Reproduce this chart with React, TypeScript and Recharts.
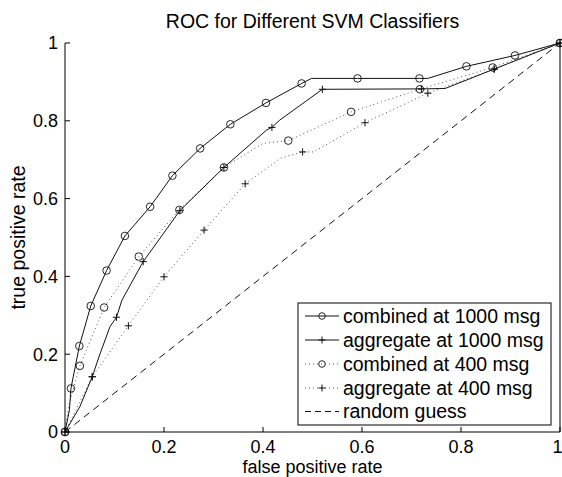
import { LineChart, Line, XAxis, YAxis, Customized } from "recharts";

// x = false positive rate, y = true positive rate, m = marker drawn at this point
const combined1000 = [
  { x: 0, y: 0, m: 1 }, { x: 0.009, y: 0.057 }, { x: 0.012, y: 0.112, m: 1 },
  { x: 0.029, y: 0.221, m: 1 }, { x: 0.052, y: 0.324, m: 1 }, { x: 0.084, y: 0.415, m: 1 },
  { x: 0.121, y: 0.504, m: 1 }, { x: 0.172, y: 0.579, m: 1 }, { x: 0.217, y: 0.659, m: 1 },
  { x: 0.273, y: 0.729, m: 1 }, { x: 0.334, y: 0.791, m: 1 }, { x: 0.406, y: 0.846, m: 1 },
  { x: 0.478, y: 0.896, m: 1 }, { x: 0.498, y: 0.909 }, { x: 0.591, y: 0.909, m: 1 },
  { x: 0.716, y: 0.909, m: 1 }, { x: 0.733, y: 0.909 }, { x: 0.811, y: 0.94, m: 1 },
  { x: 0.909, y: 0.968, m: 1 }, { x: 1, y: 1, m: 1 },
];

const aggregate1000 = [
  { x: 0, y: 0, m: 1 }, { x: 0.03, y: 0.065 }, { x: 0.055, y: 0.142, m: 1 },
  { x: 0.071, y: 0.202 }, { x: 0.091, y: 0.271 }, { x: 0.104, y: 0.295, m: 1 },
  { x: 0.115, y: 0.339 }, { x: 0.158, y: 0.438, m: 1 }, { x: 0.232, y: 0.569, m: 1 },
  { x: 0.321, y: 0.68, m: 1 }, { x: 0.407, y: 0.776 }, { x: 0.418, y: 0.783, m: 1 },
  { x: 0.434, y: 0.802 }, { x: 0.52, y: 0.881, m: 1 }, { x: 0.72, y: 0.882, m: 1 },
  { x: 0.768, y: 0.883 }, { x: 0.867, y: 0.933, m: 1 }, { x: 1, y: 1, m: 1 },
];

const combined400 = [
  { x: 0, y: 0, m: 1 }, { x: 0.008, y: 0.07 }, { x: 0.03, y: 0.17, m: 1 },
  { x: 0.079, y: 0.32, m: 1 }, { x: 0.149, y: 0.451, m: 1 }, { x: 0.231, y: 0.571, m: 1 },
  { x: 0.321, y: 0.68, m: 1 }, { x: 0.4, y: 0.742 }, { x: 0.451, y: 0.749, m: 1 },
  { x: 0.578, y: 0.823, m: 1 }, { x: 0.717, y: 0.881, m: 1 }, { x: 0.864, y: 0.937, m: 1 },
  { x: 1, y: 1, m: 1 },
];

const aggregate400 = [
  { x: 0, y: 0, m: 1 }, { x: 0.055, y: 0.142, m: 1 }, { x: 0.128, y: 0.273, m: 1 },
  { x: 0.2, y: 0.399, m: 1 }, { x: 0.281, y: 0.519, m: 1 }, { x: 0.364, y: 0.638, m: 1 },
  { x: 0.436, y: 0.704 }, { x: 0.48, y: 0.72, m: 1 }, { x: 0.502, y: 0.72 },
  { x: 0.606, y: 0.795, m: 1 }, { x: 0.733, y: 0.871, m: 1 }, { x: 0.867, y: 0.933, m: 1 },
  { x: 1, y: 1, m: 1 },
];

const randomGuess = [{ x: 0, y: 0 }, { x: 1, y: 1 }];

const ticks = [0, 0.2, 0.4, 0.6, 0.8, 1];

const legendLabels = [
  "combined at 1000 msg",
  "aggregate at 1000 msg",
  "combined at 400 msg",
  "aggregate at 400 msg",
  "random guess",
];

const FONT = "'Liberation Sans', Arial, Helvetica, sans-serif";
const SOLID = "#111";
const DOTTED = "#555";

function circleDot(p: any) {
  if (!p.payload?.m) return <g key={p.index} />;
  return <circle key={p.index} cx={p.cx} cy={p.cy} r={3.8} fill="none" stroke="#111" strokeWidth={0.9} />;
}

function plusDot(p: any) {
  if (!p.payload?.m) return <g key={p.index} />;
  const s = 3.6;
  return (
    <path key={p.index} d={`M${p.cx - s},${p.cy}H${p.cx + s}M${p.cx},${p.cy - s}V${p.cy + s}`}
      stroke="#111" strokeWidth={1} fill="none" />
  );
}

const fmt = (v: number) => String(v);

function Texts() {
  const rows = [316, 340, 364, 388, 411.5];
  const styles = [
    { stroke: SOLID, dash: undefined, mark: "o" },
    { stroke: SOLID, dash: undefined, mark: "+" },
    { stroke: DOTTED, dash: "1 3", mark: "o" },
    { stroke: DOTTED, dash: "1 3", mark: "+" },
    { stroke: SOLID, dash: "6 4", mark: "" },
  ];
  return (
    <g fontFamily={FONT} fill="#000">
      <text x={312.5} y={28} textAnchor="middle" fontSize={19.5}>ROC for Different SVM Classifiers</text>
      <text x={312.5} y={473} textAnchor="middle" fontSize={18}>false positive rate</text>
      <text transform="translate(25,237.5) rotate(-90)" textAnchor="middle" fontSize={19.5}>true positive rate</text>
      <rect x={298} y={303} width={253} height={122} fill="#fff" stroke="#000" strokeWidth={1} />
      {legendLabels.map((label, i) => {
        const y = rows[i];
        const st = styles[i];
        return (
          <g key={label}>
            <line x1={305} x2={339} y1={y} y2={y} stroke={st.stroke} strokeWidth={1} strokeDasharray={st.dash} />
            {st.mark === "o" && <circle cx={322} cy={y} r={3.3} fill="none" stroke="#111" strokeWidth={0.9} />}
            {st.mark === "+" && <path d={`M318.5,${y}H325.5M322,${y - 3.5}V${y + 3.5}`} stroke="#111" strokeWidth={1} />}
            <text x={343} y={y} dy="0.35em" fontSize={19.5}>{label}</text>
          </g>
        );
      })}
    </g>
  );
}

export default function App() {
  const tickStyle = { fontSize: 18, fontFamily: FONT, fill: "#000" };
  return (
    <div style={{ position: "absolute", left: 0, top: 0, background: "#fff" }}>
      <LineChart width={562} height={477} margin={{ top: 43, right: 0, bottom: 0, left: 0 }}>
        <XAxis type="number" dataKey="x" domain={[0, 1]} ticks={ticks} height={45}
          tickSize={-5} tickMargin={13} tick={tickStyle} tickFormatter={fmt}
          axisLine={{ stroke: "#000" }} tickLine={{ stroke: "#000" }} allowDuplicatedCategory={false} />
        <XAxis xAxisId="top" orientation="top" type="number" dataKey="x" domain={[0, 1]} ticks={ticks} height={0}
          tickSize={-5} tickFormatter={() => ""} axisLine={{ stroke: "#000" }} tickLine={{ stroke: "#000" }} />
        <YAxis type="number" domain={[0, 1]} ticks={ticks} width={65}
          tickSize={-5} tickMargin={12} tick={tickStyle} tickFormatter={fmt}
          axisLine={{ stroke: "#000" }} tickLine={{ stroke: "#000" }} />
        <YAxis yAxisId="right" orientation="right" type="number" domain={[0, 1]} ticks={ticks} width={2}
          tickSize={-5} tickFormatter={() => ""} axisLine={{ stroke: "#000" }} tickLine={{ stroke: "#000" }} />
        <Line data={randomGuess} dataKey="y" stroke={SOLID} strokeWidth={1} strokeDasharray="7 5" dot={false} isAnimationActive={false} />
        <Line data={aggregate400} dataKey="y" stroke={DOTTED} strokeWidth={1} strokeDasharray="1 3" dot={plusDot} activeDot={false} isAnimationActive={false} />
        <Line data={combined400} dataKey="y" stroke={DOTTED} strokeWidth={1} strokeDasharray="1 3" dot={circleDot} activeDot={false} isAnimationActive={false} />
        <Line data={aggregate1000} dataKey="y" stroke={SOLID} strokeWidth={1} dot={plusDot} activeDot={false} isAnimationActive={false} />
        <Line data={combined1000} dataKey="y" stroke={SOLID} strokeWidth={1} dot={circleDot} activeDot={false} isAnimationActive={false} />
        <Customized component={Texts} />
      </LineChart>
    </div>
  );
}
